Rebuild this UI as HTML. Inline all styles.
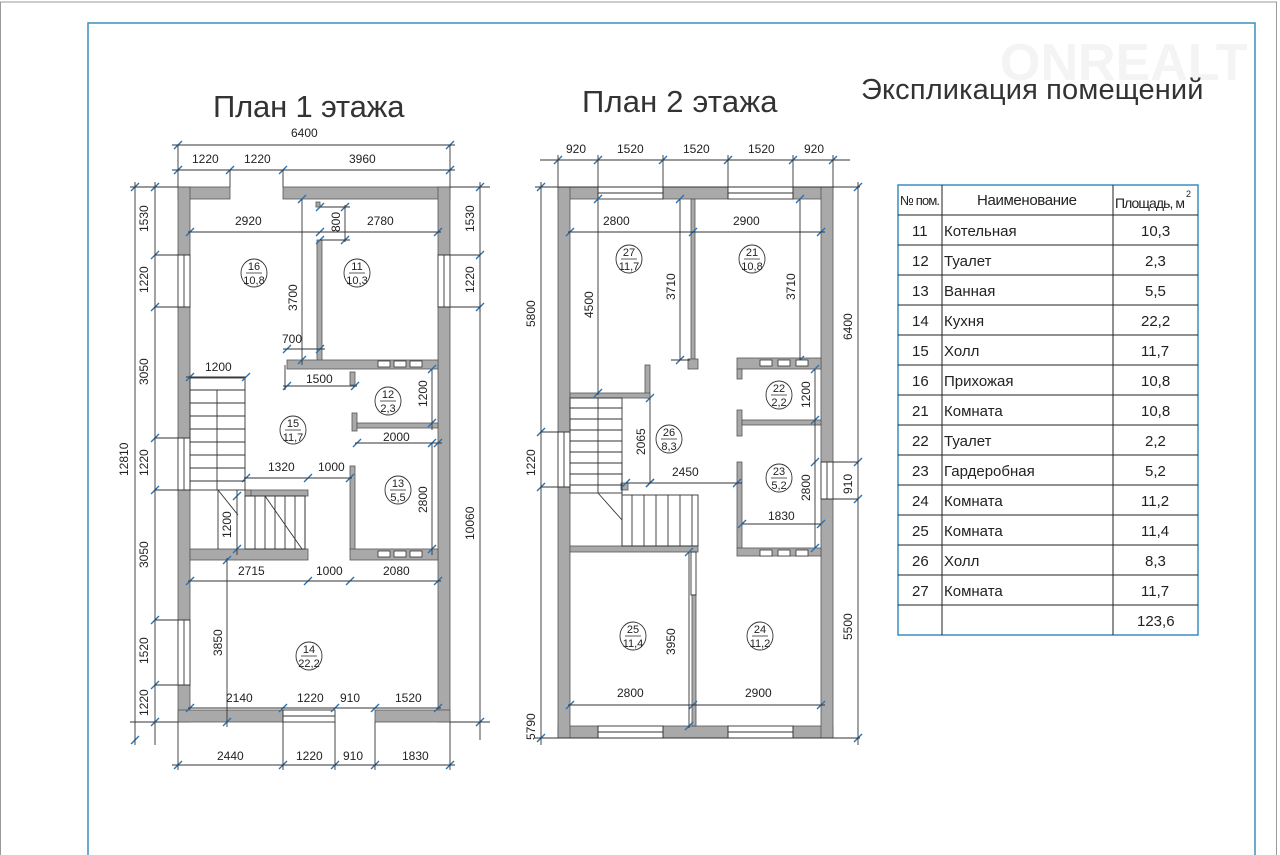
<!DOCTYPE html>
<html><head><meta charset="utf-8"><style>
html,body{margin:0;padding:0;background:#fff;}
svg{display:block;}
text{font-family:"Liberation Sans Narrow","Liberation Sans",sans-serif;fill:#222;}
.h{fill:#333;letter-spacing:0.5px;}
.w{fill:#a9a9a9;stroke:#555;stroke-width:0.8;}
.l{stroke:#333;stroke-width:0.9;fill:none;}
.t{stroke:#2a6fb0;stroke-width:1.3;}
</style></head><body>
<svg id="s" width="1280" height="855" viewBox="0 0 1280 855" xmlns="http://www.w3.org/2000/svg">
<rect x="0.5" y="2" width="1276" height="860" fill="none" stroke="#999" stroke-width="1"/>
<rect x="88" y="23" width="1167" height="850" fill="none" stroke="#3a8fc0" stroke-width="1.5"/>
<text x="1000" y="80" font-size="52" font-weight="bold" style="fill:#f4f4f4">ONREALT</text>

<text class="h" x="213" y="117" font-size="31" textLength="192">План 1 этажа</text>
<text class="h" x="582" y="112" font-size="31" textLength="196">План 2 этажа</text>
<text class="h" x="861" y="99" font-size="29" textLength="343">Экспликация помещений</text>

<g id="p1">
<rect class="w" x="178" y="187" width="52" height="12"/>
<rect class="w" x="283" y="187" width="167" height="12"/>
<rect class="w" x="178" y="187" width="12" height="68"/>
<rect class="w" x="178" y="307" width="12" height="131"/>
<rect class="w" x="178" y="490" width="12" height="130"/>
<rect class="w" x="178" y="685" width="12" height="37"/>
<rect class="w" x="438" y="187" width="12" height="68"/>
<rect class="w" x="438" y="307" width="12" height="415"/>
<rect class="w" x="178" y="710" width="105" height="12"/>
<rect class="w" x="375" y="710" width="75" height="12"/>
<rect class="l" x="283" y="710" width="52" height="12"/>
<line class="l" x1="283" y1="716" x2="335" y2="716"/>
<rect class="l" x="178" y="255" width="12" height="52"/><line class="l" x1="184" y1="255" x2="184" y2="307"/>
<rect class="l" x="438" y="255" width="12" height="52"/><line class="l" x1="444" y1="255" x2="444" y2="307"/>
<rect class="l" x="178" y="438" width="12" height="52"/><line class="l" x1="184" y1="438" x2="184" y2="490"/>
<rect class="l" x="178" y="620" width="12" height="65"/><line class="l" x1="184" y1="620" x2="184" y2="685"/>
<rect class="w" x="317" y="240" width="5" height="122"/>
<rect class="w" x="316" y="202" width="4" height="5"/>
<rect class="w" x="287" y="360" width="151" height="9"/>
<rect class="w" x="350" y="372" width="5" height="13"/>
<rect class="w" x="352" y="413" width="5" height="18"/>
<rect class="w" x="357" y="423" width="81" height="5"/>
<rect class="w" x="350" y="466" width="5" height="84"/>
<rect class="w" x="245" y="490" width="63" height="6"/>
<rect class="w" x="245" y="490" width="6" height="6"/>
<rect class="w" x="190" y="549" width="118" height="11"/>
<rect class="w" x="350" y="549" width="88" height="11"/>
<rect class="l" x="190" y="378" width="55" height="112"/>
<rect class="l" x="245" y="496" width="60" height="53"/>
<line class="l" x1="217" y1="390" x2="217" y2="490"/>
<line class="l" x1="218" y1="490" x2="238" y2="515"/><line class="l" x1="218" y1="490" x2="218" y2="549"/>
<line class="l" x1="265" y1="496" x2="302" y2="549"/>
<line class="l" x1="305" y1="496" x2="305" y2="549"/>
</g>

<g id="p2">
<rect class="w" x="558" y="187" width="40" height="12"/>
<rect class="w" x="663" y="187" width="65" height="12"/>
<rect class="w" x="793" y="187" width="40" height="12"/>
<rect class="l" x="598" y="187" width="65" height="12"/><line class="l" x1="598" y1="193" x2="663" y2="193"/>
<rect class="l" x="728" y="187" width="65" height="12"/><line class="l" x1="728" y1="193" x2="793" y2="193"/>
<rect class="w" x="558" y="726" width="40" height="12"/>
<rect class="w" x="663" y="726" width="65" height="12"/>
<rect class="w" x="793" y="726" width="40" height="12"/>
<rect class="l" x="598" y="726" width="65" height="12"/><line class="l" x1="598" y1="732" x2="663" y2="732"/>
<rect class="l" x="728" y="726" width="65" height="12"/><line class="l" x1="728" y1="732" x2="793" y2="732"/>
<rect class="w" x="558" y="187" width="12" height="245"/>
<rect class="w" x="558" y="487" width="12" height="251"/>
<rect class="l" x="558" y="432" width="12" height="55"/><line class="l" x1="564" y1="432" x2="564" y2="487"/>
<rect class="w" x="821" y="187" width="12" height="275"/>
<rect class="w" x="821" y="499" width="12" height="239"/>
<rect class="l" x="821" y="462" width="12" height="37"/><line class="l" x1="827" y1="462" x2="827" y2="499"/>
<rect class="w" x="691" y="199" width="4" height="160"/>
<rect class="w" x="688" y="359" width="10" height="10"/>
<rect class="w" x="645" y="365" width="5" height="33"/>
<rect class="w" x="570" y="393" width="80" height="5"/>
<rect class="w" x="737" y="358" width="84" height="11"/>
<rect class="w" x="737" y="369" width="5" height="10"/>
<rect class="w" x="737" y="410" width="5" height="26"/>
<rect class="w" x="742" y="420" width="79" height="5"/>
<rect class="w" x="737" y="462" width="5" height="86"/>
<rect class="w" x="737" y="548" width="84" height="8"/>
<rect class="w" x="570" y="546" width="128" height="6"/>
<rect class="w" x="621" y="483" width="7" height="7"/>
<rect class="w" x="692" y="595" width="4" height="131"/>
<rect class="l" x="691" y="552" width="5" height="43"/>
<rect class="l" x="570" y="398" width="52" height="95"/>
<rect class="l" x="622" y="495" width="76" height="51"/>
<line class="l" x1="598" y1="398" x2="598" y2="493"/>
<line class="l" x1="598" y1="493" x2="622" y2="520"/>
<line class="l" x1="622" y1="462" x2="622" y2="546"/>
</g>

<g id="ticks"></g>
<g id="dl" class="l">
<line x1="172" y1="145" x2="455" y2="145"/><line x1="172" y1="170" x2="455" y2="170"/>
<line x1="178" y1="145" x2="178" y2="187"/><line x1="450" y1="145" x2="450" y2="187"/>
<line x1="230" y1="170" x2="230" y2="187"/><line x1="283" y1="170" x2="283" y2="187"/>
<line x1="130" y1="187" x2="178" y2="187"/><line x1="155" y1="255" x2="178" y2="255"/><line x1="155" y1="307" x2="178" y2="307"/>
<line x1="155" y1="438" x2="178" y2="438"/><line x1="155" y1="490" x2="178" y2="490"/><line x1="155" y1="620" x2="178" y2="620"/><line x1="155" y1="685" x2="178" y2="685"/>
<line x1="130" y1="722" x2="178" y2="722"/>
<line x1="155" y1="182" x2="155" y2="745"/><line x1="135" y1="182" x2="135" y2="745"/>
<line x1="450" y1="187" x2="490" y2="187"/><line x1="450" y1="255" x2="480" y2="255"/><line x1="450" y1="307" x2="480" y2="307"/><line x1="450" y1="722" x2="490" y2="722"/>
<line x1="480" y1="182" x2="480" y2="312"/><line x1="480" y1="302" x2="480" y2="740"/>
<line x1="172" y1="765" x2="455" y2="765"/>
<line x1="178" y1="722" x2="178" y2="770"/><line x1="283" y1="722" x2="283" y2="770"/><line x1="335" y1="722" x2="335" y2="770"/><line x1="375" y1="722" x2="375" y2="770"/><line x1="450" y1="722" x2="450" y2="770"/>
<line x1="188" y1="232" x2="320" y2="232"/><line x1="320" y1="232" x2="441" y2="232"/>
<line x1="302" y1="199" x2="302" y2="365"/>
<line x1="345" y1="205" x2="345" y2="242"/><line x1="320" y1="207" x2="350" y2="207"/><line x1="320" y1="240" x2="350" y2="240"/>
<line x1="283" y1="349" x2="325" y2="349"/>
<line x1="283" y1="386" x2="357" y2="386"/><line x1="285" y1="365" x2="285" y2="390"/>
<line x1="186" y1="377" x2="246" y2="377"/>
<line x1="432" y1="369" x2="432" y2="430"/>
<line x1="355" y1="443" x2="442" y2="443"/>
<line x1="432" y1="443" x2="432" y2="555"/>
<line x1="244" y1="478" x2="310" y2="478"/><line x1="308" y1="478" x2="352" y2="478"/>
<line x1="237" y1="490" x2="237" y2="555"/>
<line x1="188" y1="581" x2="441" y2="581"/>
<line x1="227" y1="558" x2="227" y2="727"/>
<line x1="188" y1="708" x2="441" y2="708"/>
<line x1="540" y1="160" x2="850" y2="160"/>
<line x1="558" y1="155" x2="558" y2="187"/><line x1="598" y1="155" x2="598" y2="187"/><line x1="663" y1="155" x2="663" y2="187"/><line x1="728" y1="155" x2="728" y2="187"/><line x1="793" y1="155" x2="793" y2="187"/><line x1="833" y1="155" x2="833" y2="187"/>
<line x1="535" y1="187" x2="860" y2="187"/><line x1="535" y1="738" x2="860" y2="738"/>
<line x1="541" y1="182" x2="541" y2="745"/><line x1="541" y1="432" x2="558" y2="432"/><line x1="541" y1="487" x2="558" y2="487"/>
<line x1="858" y1="182" x2="858" y2="745"/><line x1="833" y1="462" x2="858" y2="462"/><line x1="833" y1="499" x2="858" y2="499"/>
<line x1="568" y1="232" x2="825" y2="232"/>
<line x1="598" y1="199" x2="598" y2="395"/>
<line x1="680" y1="199" x2="680" y2="360"/><line x1="800" y1="199" x2="800" y2="360"/>
<line x1="671" y1="360" x2="690" y2="360"/>
<line x1="650" y1="398" x2="650" y2="483"/>
<line x1="626" y1="483" x2="742" y2="483"/>
<line x1="815" y1="369" x2="815" y2="548"/>
<line x1="742" y1="524" x2="821" y2="524"/>
<line x1="568" y1="705" x2="825" y2="705"/>
<line x1="689" y1="552" x2="689" y2="728"/>
</g>

<g font-size="12">
<text x="291" y="137">6400</text>
<text x="192" y="163">1220</text><text x="244" y="163">1220</text><text x="349" y="163">3960</text>
<text x="235" y="225">2920</text><text x="367" y="225">2780</text>
<text x="282" y="343">700</text><text x="306" y="383">1500</text>
<text x="205" y="371">1200</text><text x="383" y="441">2000</text>
<text x="268" y="471">1320</text><text x="318" y="471">1000</text>
<text x="238" y="575">2715</text><text x="316" y="575">1000</text><text x="383" y="575">2080</text>
<text x="226" y="702">2140</text><text x="297" y="702">1220</text><text x="340" y="702">910</text><text x="395" y="702">1520</text>
<text x="217" y="760">2440</text><text x="296" y="760">1220</text><text x="343" y="760">910</text><text x="402" y="760">1830</text>
<text x="603" y="225">2800</text><text x="733" y="225">2900</text>
<text x="566" y="153">920</text><text x="617" y="153">1520</text><text x="683" y="153">1520</text><text x="748" y="153">1520</text><text x="804" y="153">920</text>
<text x="672" y="476">2450</text><text x="768" y="520">1830</text>
<text x="617" y="697">2800</text><text x="745" y="697">2900</text>
</g>
<g font-size="12">
<text transform="translate(148,232) rotate(-90)">1530</text>
<text transform="translate(148,293) rotate(-90)">1220</text>
<text transform="translate(148,385) rotate(-90)">3050</text>
<text transform="translate(148,476) rotate(-90)">1220</text>
<text transform="translate(148,568) rotate(-90)">3050</text>
<text transform="translate(148,664) rotate(-90)">1520</text>
<text transform="translate(148,716) rotate(-90)">1220</text>
<text transform="translate(128,476) rotate(-90)">12810</text>
<text transform="translate(474,232) rotate(-90)">1530</text>
<text transform="translate(474,293) rotate(-90)">1220</text>
<text transform="translate(474,540) rotate(-90)">10060</text>
<text transform="translate(297,311) rotate(-90)">3700</text>
<text transform="translate(340,232) rotate(-90)">800</text>
<text transform="translate(427,407) rotate(-90)">1200</text>
<text transform="translate(427,513) rotate(-90)">2800</text>
<text transform="translate(231,538) rotate(-90)">1200</text>
<text transform="translate(222,656) rotate(-90)">3850</text>
<text transform="translate(535,327) rotate(-90)">5800</text>
<text transform="translate(535,476) rotate(-90)">1220</text>
<text transform="translate(535,740) rotate(-90)">5790</text>
<text transform="translate(852,340) rotate(-90)">6400</text>
<text transform="translate(852,494) rotate(-90)">910</text>
<text transform="translate(852,640) rotate(-90)">5500</text>
<text transform="translate(593,318) rotate(-90)">4500</text>
<text transform="translate(675,300) rotate(-90)">3710</text>
<text transform="translate(795,300) rotate(-90)">3710</text>
<text transform="translate(645,455) rotate(-90)">2065</text>
<text transform="translate(810,408) rotate(-90)">1200</text>
<text transform="translate(810,501) rotate(-90)">2800</text>
<text transform="translate(675,655) rotate(-90)">3950</text>
</g>

<g id="rooms"></g>
<g font-size="11" text-anchor="middle">
<text x="254" y="270">16</text><text x="254" y="284">10,8</text>
<text x="357" y="270">11</text><text x="357" y="284">10,3</text>
<text x="388" y="398">12</text><text x="388" y="412">2,3</text>
<text x="293" y="427">15</text><text x="293" y="441">11,7</text>
<text x="398" y="487">13</text><text x="398" y="501">5,5</text>
<text x="309" y="653">14</text><text x="309" y="667">22,2</text>
<text x="629" y="256">27</text><text x="629" y="270">11,7</text>
<text x="752" y="256">21</text><text x="752" y="270">10,8</text>
<text x="779" y="392">22</text><text x="779" y="406">2,2</text>
<text x="669" y="436">26</text><text x="669" y="450">8,3</text>
<text x="779" y="475">23</text><text x="779" y="489">5,2</text>
<text x="633" y="633">25</text><text x="633" y="647">11,4</text>
<text x="760" y="633">24</text><text x="760" y="647">11,2</text>
</g>

<g stroke="#222" stroke-width="1" fill="none">
<rect x="898" y="185" width="300" height="450" stroke="#3a8fc0" stroke-width="1.5"/>
<line x1="942" y1="185" x2="942" y2="635"/><line x1="1113" y1="185" x2="1113" y2="635"/>
</g>
<g id="rows" stroke="#222" stroke-width="1"></g>
<g font-size="15">
<text x="900" y="205" font-size="13" textLength="40">№ пом.</text>
<text x="977" y="205" textLength="100">Наименование</text>
<text x="1115" y="208" font-size="14" textLength="70">Площадь, м</text><text x="1186" y="197" font-size="9">2</text>
</g>
<g font-size="15">
<text x="912" y="236">11</text><text x="944" y="236">Котельная</text><text x="1141" y="236">10,3</text>
<text x="912" y="266">12</text><text x="944" y="266">Туалет</text><text x="1145" y="266">2,3</text>
<text x="912" y="296">13</text><text x="944" y="296">Ванная</text><text x="1145" y="296">5,5</text>
<text x="912" y="326">14</text><text x="944" y="326">Кухня</text><text x="1141" y="326">22,2</text>
<text x="912" y="356">15</text><text x="944" y="356">Холл</text><text x="1141" y="356">11,7</text>
<text x="912" y="386">16</text><text x="944" y="386">Прихожая</text><text x="1141" y="386">10,8</text>
<text x="912" y="416">21</text><text x="944" y="416">Комната</text><text x="1141" y="416">10,8</text>
<text x="912" y="446">22</text><text x="944" y="446">Туалет</text><text x="1145" y="446">2,2</text>
<text x="912" y="476">23</text><text x="944" y="476">Гардеробная</text><text x="1145" y="476">5,2</text>
<text x="912" y="506">24</text><text x="944" y="506">Комната</text><text x="1141" y="506">11,2</text>
<text x="912" y="536">25</text><text x="944" y="536">Комната</text><text x="1141" y="536">11,4</text>
<text x="912" y="566">26</text><text x="944" y="566">Холл</text><text x="1145" y="566">8,3</text>
<text x="912" y="596">27</text><text x="944" y="596">Комната</text><text x="1141" y="596">11,7</text>
<text x="1137" y="626">123,6</text>
</g>
</svg>
<script>
var NS="http://www.w3.org/2000/svg";
function el(p,n,a){var e=document.createElementNS(NS,n);for(var k in a)e.setAttribute(k,a[k]);p.appendChild(e);return e;}
var T=document.getElementById("ticks"),R=document.getElementById("rows"),RM=document.getElementById("rooms");
function tk(x,y){el(T,"line",{x1:x-4,y1:y+4,x2:x+4,y2:y-4,"class":"t"});}
[[145,[178,450]],[170,[178,230,283,450]],[765,[178,283,335,375,450]],[160,[558,598,663,728,793,833]],
 [232,[190,320,438,570,693,821]],[705,[570,693,821]],[581,[190,308,350,438]],[708,[190,283,335,375,438]],
 [349,[287,320]],[386,[287,355]],[377,[190,246]],[443,[357,438]],[478,[246,308,350]],[483,[626,650,737]],[524,[742,821]],[207,[320,345]],[240,[320,345]]]
.forEach(function(r){r[1].forEach(function(x){tk(x,r[0]);});});
[[155,[187,255,307,438,490,620,685,722]],[135,[187,740]],[480,[187,255,307,722]],[541,[187,432,487,738]],[858,[187,462,499,738]],
 [302,[199,360]],[432,[369,423,443,549]],[237,[496,549]],[227,[560,722]],[598,[199,393]],[680,[199,360]],[800,[199,360]],[650,[398,483]],[815,[369,420,462,548]],[689,[552,726]]]
.forEach(function(r){r[1].forEach(function(y){tk(r[0],y);});});
for(var i=1;i<15;i++){var y=185+30*i;el(R,"line",{x1:898,y1:y,x2:1198,y2:y});}
[[254,273],[357,273],[388,401],[293,430],[398,490],[309,656],[629,259],[752,259],[779,395],[669,439],[779,478],[633,636],[760,636]].forEach(function(c){
 el(RM,"ellipse",{cx:c[0],cy:c[1],rx:13,ry:14,fill:"none",stroke:"#333","stroke-width":0.9});
 el(RM,"line",{x1:c[0]-8,y1:c[1],x2:c[0]+8,y2:c[1],stroke:"#333","stroke-width":0.8});});
for(var y=390;y<490;y+=13)el(T,"line",{x1:190,y1:y,x2:245,y2:y,"class":"l"});
for(var x=255;x<305;x+=10)el(T,"line",{x1:x,y1:496,x2:x,y2:549,"class":"l"});
for(var y=408;y<493;y+=11)el(T,"line",{x1:570,y1:y,x2:622,y2:y,"class":"l"});
for(var x=632;x<698;x+=12)el(T,"line",{x1:x,y1:495,x2:x,y2:546,"class":"l"});
[[378,361],[394,361],[410,361],[378,551],[394,551],[410,551],[760,360],[778,360],[796,360],[760,550],[778,550],[796,550]].forEach(function(v){
 el(T,"rect",{x:v[0],y:v[1],width:12,height:6,fill:"#fff",stroke:"#333","stroke-width":0.8});});
</script>
</body></html>
